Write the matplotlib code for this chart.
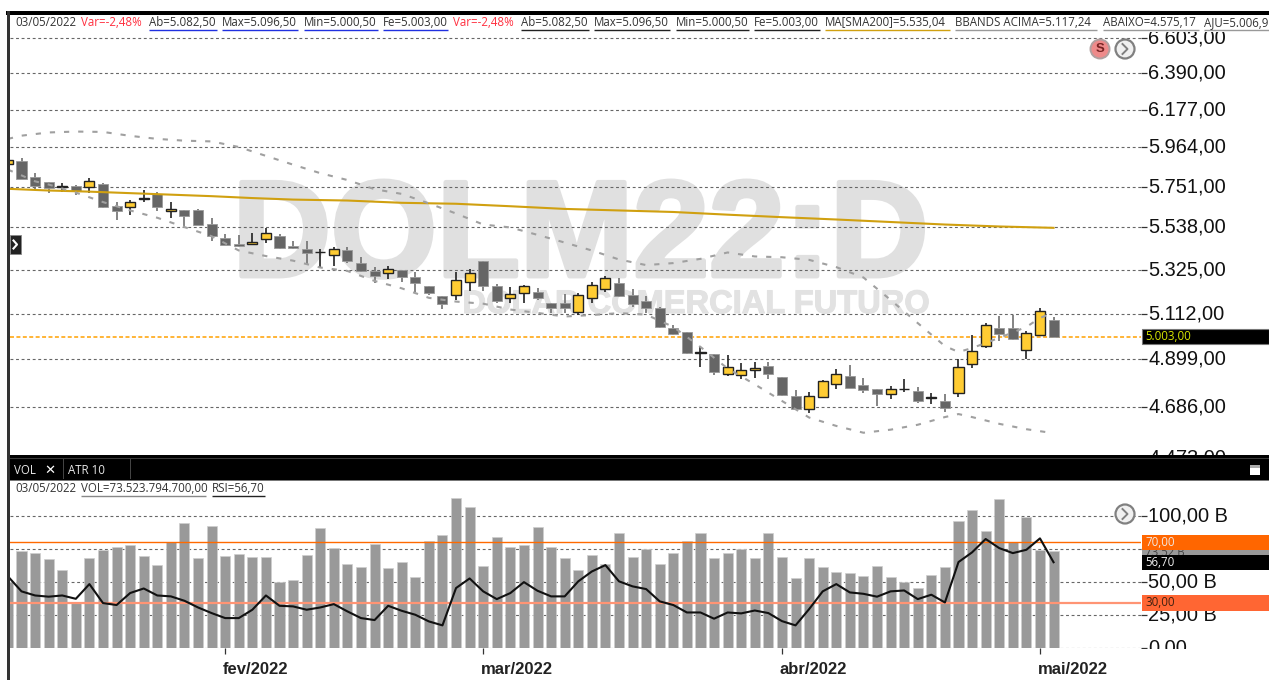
import matplotlib
matplotlib.use('Agg')
import matplotlib.pyplot as plt
import matplotlib.patheffects as pe
from matplotlib.patches import Rectangle, Circle
from matplotlib.ticker import NullLocator
from matplotlib.transforms import ScaledTranslation

plt.rcParams['font.family'] = ['Liberation Sans', 'DejaVu Sans']

# candles, first one is cut by the left border
opens = [5873, 5887, 5803, 5774, 5749, 5753, 5749, 5765, 5649, 5642, 5686, 5713, 5620, 5626, 5626, 5556, 5482, 5452, 5453, 5480,
         5492, 5441, 5426, 5411, 5397, 5421, 5359, 5318, 5309, 5323, 5289, 5246, 5195, 5203, 5264, 5367, 5245, 5187, 5209, 5216,
         5161, 5161, 5117, 5185, 5229, 5261, 5200, 5171, 5138, 5046, 5024, 4929, 4924, 4832, 4828, 4851, 4868, 4820, 4736, 4677,
         4730, 4787, 4825, 4784, 4766, 4745, 4766, 4757, 4729, 4714, 4748, 4878, 4960, 5046, 5046, 4942, 5013, 5082.5]
highs = [5895, 5905, 5825, 5774, 5771, 5760, 5798, 5771, 5669, 5681, 5731, 5723, 5669, 5626, 5631, 5588, 5505, 5496, 5508, 5533,
         5502, 5467, 5467, 5427, 5436, 5436, 5386, 5339, 5342, 5323, 5312, 5246, 5195, 5312, 5327, 5367, 5255, 5241, 5250, 5234,
         5161, 5206, 5212, 5266, 5295, 5282, 5229, 5196, 5142, 5058, 5027, 4961, 4924, 4919, 4881, 4886, 4886, 4820, 4763, 4755,
         4807, 4855, 4874, 4816, 4766, 4781, 4812, 4775, 4751, 4744, 4899, 5012, 5066, 5100, 5105, 5032, 5137, 5096.5]
lows = [5870, 5789, 5735, 5717, 5720, 5704, 5717, 5637, 5574, 5601, 5669, 5624, 5585, 5538, 5552, 5468, 5448, 5439, 5453, 5458,
        5429, 5426, 5352, 5339, 5342, 5359, 5314, 5261, 5279, 5264, 5216, 5201, 5135, 5177, 5221, 5221, 5164, 5164, 5161, 5177,
        5113, 5113, 5105, 5161, 5217, 5190, 5142, 5113, 5043, 5012, 4922, 4863, 4828, 4825, 4811, 4817, 4811, 4736, 4674, 4660,
        4726, 4767, 4769, 4748, 4692, 4722, 4755, 4706, 4701, 4666, 4731, 4859, 4950, 4983, 4987, 4903, 5008, 5000.5]
closes = [5892, 5789, 5753, 5742, 5752, 5728, 5782, 5642, 5620, 5669, 5689, 5642, 5634, 5597, 5552, 5492, 5448, 5442, 5465, 5508,
          5432, 5431, 5406, 5413, 5426, 5369, 5319, 5293, 5326, 5288, 5257, 5209, 5158, 5274, 5310, 5242, 5172, 5205, 5245, 5187,
          5137, 5140, 5203, 5250, 5284, 5196, 5158, 5140, 5048, 5016, 4927, 4931, 4843, 4866, 4853, 4862, 4832, 4740, 4677, 4736,
          4801, 4834, 4772, 4763, 4744, 4766, 4768, 4715, 4731, 4684, 4863, 4937, 5060, 5016, 4992, 5020, 5125, 5003]
candle_idx = list(range(-1, 77))

# sma and bollinger readings
sma_idx = [-1, 2, 5, 8, 11, 14, 17, 20, 24, 28, 32, 36, 40, 44, 48, 52, 56, 60, 64, 68, 72, 76]
sma_vals = [5739, 5730, 5724, 5716, 5708, 5700, 5690, 5682, 5677, 5665, 5660, 5647, 5633, 5625, 5617, 5603, 5590, 5578, 5565, 5552, 5542, 5535.04]

upper_idx = [-1, 0, 2, 4, 6, 8, 10, 12, 14, 16, 18, 20, 22, 24, 26, 28, 30, 32, 34, 36, 38, 40, 42, 44, 46, 48, 50, 52, 54, 56, 58, 60, 62, 64, 66, 68, 69, 70, 72, 74, 75, 76]
upper_vals = [6011, 6029, 6047, 6052, 6050, 6028, 6011, 6001, 5997, 5966, 5917, 5869, 5823, 5786, 5737, 5712, 5662, 5609, 5552, 5537, 5499,
              5460, 5420, 5375, 5347, 5357, 5378, 5410, 5390, 5386, 5373, 5337, 5286, 5177, 5067, 4960, 4933, 4951, 4998, 5049, 5091, 5117.24]
lower_idx = [-1, 0, 1, 2, 4, 6, 8, 10, 12, 14, 16, 18, 20, 22, 24, 26, 28, 30, 32, 34, 36, 38, 40, 42, 44, 46, 48, 50, 52, 54, 56, 58, 60, 62, 64, 66, 68, 69, 70, 72, 74, 76]
lower_vals = [5842, 5811, 5779, 5762, 5719, 5669, 5625, 5587, 5539, 5492, 5420, 5392, 5369, 5335, 5318, 5269, 5233, 5187, 5169, 5159, 5131,
              5115, 5098, 5105, 5114, 5107, 5049, 4956, 4858, 4787, 4714, 4642, 4606, 4577, 4590, 4611, 4644, 4657, 4644, 4615, 4592, 4575.17]

# volume in billions
volume = [50.0, 73.6, 72.1, 67.3, 59.3, 34.3, 68.1, 74.4, 76.7, 78.2, 69.6, 63.3, 80.2, 94.8, 68.1, 92.5, 69.6, 71.1, 68.8, 68.8,
          50.2, 51.4, 70.3, 90.8, 75.9, 64.0, 61.8, 78.9, 60.8, 65.6, 54.0, 81.4, 85.5, 113.7, 106.7, 62.3, 84.5, 76.7, 78.2, 91.5,
          76.7, 68.1, 59.3, 70.3, 64.0, 87.0, 68.8, 75.4, 64.0, 71.9, 81.4, 87.0, 68.1, 71.9, 75.4, 68.1, 87.0, 68.8, 53.0, 68.1,
          61.8, 57.7, 56.7, 54.5, 62.3, 53.7, 50.4, 45.9, 55.2, 61.8, 96.3, 104.4, 88.5, 113.0, 80.2, 99.6, 74.4, 73.52]
rsi = [47.4, 37.5, 34.8, 34.0, 34.8, 32.6, 42.3, 29.8, 28.5, 36.4, 39.4, 34.8, 34.2, 31.3, 26.9, 23.2, 19.9, 19.9, 25.4, 34.8,
       28.0, 27.6, 25.4, 26.9, 29.1, 24.3, 19.9, 18.6, 28.0, 24.7, 22.1, 17.7, 15.1, 39.7, 46.0, 37.5, 32.4, 36.4, 43.6, 37.9,
       34.2, 34.2, 44.1, 50.6, 54.8, 44.1, 40.8, 39.0, 30.9, 28.5, 23.6, 23.6, 19.5, 23.6, 23.0, 24.9, 23.2, 17.9, 15.1, 25.8,
       37.5, 42.3, 36.8, 35.9, 34.0, 37.5, 38.1, 32.4, 35.3, 30.2, 56.8, 63.2, 72.0, 66.0, 62.7, 64.9, 72.4, 56.7]

price_ticks = [4473, 4686, 4899, 5112, 5325, 5538, 5751, 5964, 6177, 6390, 6603]
price_labels = ['4.473,00', '4.686,00', '4.899,00', '5.112,00', '5.325,00', '5.538,00', '5.751,00', '5.964,00', '6.177,00', '6.390,00', '6.603,00']
vol_ticks = [0, 25, 50, 75, 100]
vol_labels = ['0,00', '25,00 B', '50,00 B', '75,00 B', '100,00 B']
month_idx = [15, 34, 56, 75]
month_labels = ['fev/2022', 'mar/2022', 'abr/2022', 'mai/2022']

W, H = 1269, 680
fig = plt.figure(figsize=(W/100, H/100), dpi=100, facecolor='white')

def px_axes(left, top, right, bottom, z):
    return fig.add_axes([left/W, 1-bottom/H, (right-left)/W, (bottom-top)/H], zorder=z)

# background axes for the watermark, pixel coords
bg = px_axes(0, 0, W, H, 0)
bg.set_xlim(0, W)
bg.set_ylim(H, 0)
bg.axis('off')
bg.text(929, 276, 'DOLM22:D', fontsize=98, fontweight='bold', color='#e0e0e0', ha='right', va='baseline',
        path_effects=[pe.withStroke(linewidth=3.5, foreground='#e0e0e0')])
bg.text(929, 313, 'DOLAR COMERCIAL FUTURO', fontsize=23.5, fontweight='bold', color='#e2e2e2', ha='right', va='baseline',
        path_effects=[pe.withStroke(linewidth=0.8, foreground='#e2e2e2')])

# price panel
ax = px_axes(10, 15, 1141, 458, 1)
ax.patch.set_alpha(0)
ax.set_yscale('log')
ax.set_xlim(-0.847, 82.44)
ax.set_ylim(4471, 6743)
ax.yaxis.tick_right()
ax.set_yticks(price_ticks)
ax.set_yticklabels(price_labels, fontsize=14.4, color='#111111', va='center_baseline')
ax.yaxis.set_minor_locator(NullLocator())
ax.tick_params(axis='y', length=4.3, width=0.9, color='#333333', pad=1.0)
ax.tick_params(axis='x', length=0, labelbottom=False)
for t in ax.get_yticklabels():
    t.set_transform(t.get_transform() + ScaledTranslation(0, 2/100, fig.dpi_scale_trans))
ax.grid(axis='y', color='#666666', lw=0.8, ls=(0, (2.6, 2.4)), zorder=0)
ax.set_axisbelow(True)
for s in ax.spines.values():
    s.set_visible(False)

ax.axhline(5003, color='#ffa000', lw=1.1, ls=(0, (2.6, 1.6)), zorder=1)

for i, o, h, l, c in zip(candle_idx, opens, highs, lows, closes):
    up = c > o
    ax.vlines(i, l, h, color='#222222' if up else '#707070', lw=1.2, zorder=2)
    ax.bar(i, abs(c-o), bottom=min(o, c), width=0.74,
           color='#ffcc33' if up else '#666666',
           edgecolor='#222222' if up else '#9a9a9a', lw=1.0 if up else 0.6, zorder=3)

ax.plot(sma_idx, sma_vals, color='#d0a010', lw=1.5, zorder=4)
ax.plot(upper_idx, upper_vals, color='#a0a0a0', lw=1.5, ls=(0, (2.5, 4.3)), zorder=5)
ax.plot(lower_idx, lower_vals, color='#a0a0a0', lw=1.5, ls=(0, (2.5, 4.3)), zorder=5)

# volume / rsi panel
ax2 = px_axes(10, 481, 1141, 648.3, 1)
ax2.patch.set_alpha(0)
ax2.set_xlim(-0.847, 82.44)
ax2.set_ylim(0, 126.6)

ax3 = ax2.twinx()
ax3.set_ylim(0, 110.2)
ax3.set_yticks([])
for s in ax3.spines.values():
    s.set_visible(False)

ax2.yaxis.tick_right()
ax2.set_yticks(vol_ticks)
ax2.set_yticklabels(vol_labels, fontsize=14.4, color='#111111', va='center_baseline')
ax2.tick_params(axis='y', length=4.3, width=0.9, color='#333333', pad=1.0)
for t in ax2.get_yticklabels():
    t.set_transform(t.get_transform() + ScaledTranslation(0, 2/100, fig.dpi_scale_trans))
ax2.set_xticks(month_idx)
ax2.set_xticklabels(month_labels, fontsize=12, fontweight='bold', color='#222222', ha='left')
ax2.tick_params(axis='x', length=4.5, width=0.9, color='#333333', pad=5.5)
for t in ax2.get_xticklabels():
    t.set_transform(t.get_transform() + ScaledTranslation(-2/100, 0, fig.dpi_scale_trans))
ax2.grid(axis='y', color='#666666', lw=0.8, ls=(0, (2.6, 2.4)))
ax2.set_axisbelow(True)
for s in ax2.spines.values():
    s.set_visible(False)
ax2.bar(candle_idx, volume, width=0.74, color='#999999', edgecolor='#cfcfcf', lw=0.5, zorder=2)

ax3.axhline(70, color='#ff6a00', lw=1.0, zorder=3)
ax3.axhline(30, color='#ff9474', lw=1.6, zorder=3)
ax3.plot(candle_idx, rsi, color='#111111', lw=1.5, zorder=4)

# window chrome on top, pixel coords
ov = px_axes(0, 0, W, H, 5)
ov.set_xlim(0, W)
ov.set_ylim(H, 0)
ov.axis('off')

def box(x0, y0, x1, y1, color, z=1, **kw):
    ov.add_patch(Rectangle((x0, y0), x1-x0, y1-y0, facecolor=color, edgecolor=kw.pop('edge', 'none'), lw=kw.pop('lw', 0), zorder=z))

box(0, 0, W, 11, 'white')
box(0, 15, W, 31.5, 'white')
box(6, 11, W, 15, 'black')
box(7, 11, 10, H, '#333333')
box(10, 455, W, 480, 'black')
box(10, 458, W, 459, '#3a3a3a')
box(10, 479.5, W, 480.5, '#777777')
box(1141, 648.5, W, H, 'white')
box(63, 459, 64, 479, '#444444')
box(130, 459, 131, 479, '#444444')

sans = ['Open Sans', 'DejaVu Sans']

def legend(x, y, text, color, under=None, x_end=None):
    ov.text(x, y, text, fontsize=8.3, family=sans, color=color, ha='left', va='center')
    if under:
        ov.plot([x, x_end], [y+7.5, y+7.5], color=under, lw=1.0, solid_capstyle='butt')

legend(15, 22.5, '03/05/2022', '#333333')
legend(81, 22.5, 'Var=-2,48%', '#ff3040')
legend(149, 22.5, 'Ab=5.082,50', '#333333', '#2030e0', 217)
legend(222, 22.5, 'Max=5.096,50', '#333333', '#2030e0', 298)
legend(304, 22.5, 'Min=5.000,50', '#333333', '#2030e0', 378)
legend(383, 22.5, 'Fe=5.003,00', '#333333', '#2030e0', 448)
legend(453, 22.5, 'Var=-2,48%', '#ff3040')
legend(521, 22.5, 'Ab=5.082,50', '#333333', '#222222', 589)
legend(594, 22.5, 'Max=5.096,50', '#333333', '#222222', 670)
legend(676, 22.5, 'Min=5.000,50', '#333333', '#222222', 749)
legend(754, 22.5, 'Fe=5.003,00', '#333333', '#222222', 820)
legend(825, 22.5, 'MA[SMA200]=5.535,04', '#333333', '#d0a010', 950)
legend(955, 22.5, 'BBANDS ACIMA=5.117,24', '#333333', '#999999', 1097)
legend(1103, 22.5, 'ABAIXO=4.575,17', '#333333', '#999999', 1199)
legend(1204, 22.5, 'AJU=5.006,90', '#333333', '#999999', 1269)

legend(15, 488, '03/05/2022', '#333333')
legend(81, 488, 'VOL=73.523.794.700,00', '#333333', '#888888', 206)
legend(212, 488, 'RSI=56,70', '#333333', '#222222', 265)

ov.text(14, 470, 'VOL', fontsize=8.3, family=sans, color='#e8e8e8', ha='left', va='center')
ov.text(50, 470, '\u2715', fontsize=9.5, family='DejaVu Sans', fontweight='bold', color='white', ha='center', va='center')
ov.text(68, 470, 'ATR 10', fontsize=8.3, family=sans, color='#e8e8e8', ha='left', va='center')

# window button
box(1250, 465, 1260, 475, 'white')
box(1250, 465, 1260, 467.5, '#aaaaaa')

# price flags at the right, the volume flag is mostly hidden between the others
box(1142, 329, W, 344, 'black', edge='#777777', lw=0.8)
ov.text(1145, 337, '5.003,00', fontsize=8.3, family=sans, color='#d8e800', ha='left', va='center')
box(1142, 545, W, 560, '#999999')
ov.text(1145, 553, '73,52 B', fontsize=8.3, family=sans, color='#444444', ha='left', va='center', zorder=1.5)
box(1142, 535, W, 550, '#ff6600', z=2)
ov.text(1145, 543, '70,00', fontsize=8.3, family=sans, color='#f4e8e0', ha='left', va='center')
box(1142, 555, W, 570, 'black', z=2)
ov.text(1145, 562.5, '56,70', fontsize=8.3, family=sans, color='#f0f0f0', ha='left', va='center')
box(1142, 595, W, 610.5, '#ff6633')
ov.text(1145, 603, '30,00', fontsize=8.3, family=sans, color='#402010', ha='left', va='center')

# left tab and round buttons
box(10, 235, 21, 254, '#222222', edge='#888888', lw=0.6)
ov.plot([13.5, 17, 13.5], [240.5, 244.5, 248.5], color='white', lw=1.5)

ov.add_patch(Circle((1100, 49), 9.5, facecolor='#ee8a8a', edgecolor='#b0a0a0', lw=1.4))
ov.text(1100, 49, 'S', fontsize=9.5, fontweight='bold', color='#772222', ha='center', va='center')
for cx, cy in [(1125, 49), (1125, 514)]:
    ov.add_patch(Circle((cx, cy), 9.5, facecolor='#f0f0f0', edgecolor='#808080', lw=1.6))
    ov.plot([cx-2.5, cx+2.5, cx-2.5], [cy-5, cy, cy+5], color='#808080', lw=1.4)

fig.savefig('out.png', dpi=100)
